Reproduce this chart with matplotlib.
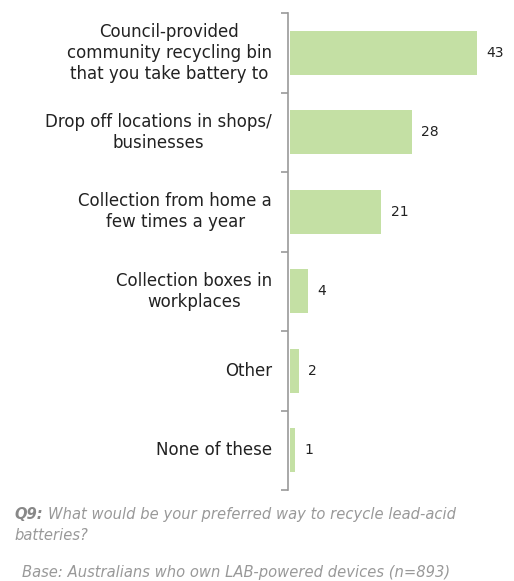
import matplotlib.pyplot as plt
import numpy as np

categories = ["Council-provided\ncommunity recycling bin\nthat you take battery to",
              "Drop off locations in shops/\nbusinesses",
              "Collection from home a\nfew times a year",
              "Collection boxes in\nworkplaces",
              "Other",
              "None of these"]
values = [43, 28, 21, 4, 2, 1]

fig = plt.figure(figsize=(5.14, 5.81), dpi=100)
ax = fig.add_axes([288/514, 1-490/581, 217/514, 477/581])
y = np.arange(len(categories))
ax.barh(y, values, height=0.55, color="#c4e0a4", left=0.5)
ax.set_ylim(len(categories)-0.5, -0.5)
ax.set_xlim(0, 50)
for s in ["top", "right", "bottom"]:
    ax.spines[s].set_visible(False)
ax.spines["left"].set_color("#999999")
ax.spines["left"].set_linewidth(1.2)
ax.set_xticks([])
ax.set_yticks(np.arange(len(categories)+1)-0.5)
ax.set_yticklabels([])
ax.tick_params(axis="y", length=5, color="#999999", width=1.2)
for yi, c in zip(y, categories):
    ax.text(-16/217, yi, c, transform=ax.get_yaxis_transform(), ha="right", va="center",
            multialignment="center", fontsize=12, color="#222222", linespacing=1.2)
for yi, v in zip(y, values):
    ax.text(v + 0.5 + 2.2, yi, str(v), va="center", ha="left", fontsize=10, color="#222222")

fs = 10.6
q9 = fig.text(14/514, 1-519/581, "Q9:", fontsize=fs, color="#888888", style="italic",
              weight="bold", va="baseline")
fig.canvas.draw()
plt.annotate("What would be your preferred way to recycle lead-acid", xy=(1, 0),
             xycoords=q9, xytext=(4, 0), textcoords="offset points", fontsize=fs,
             color="#999999", style="italic", va="bottom", ha="left", annotation_clip=False)
fig.text(14/514, 1-536/581, "batteries?", fontsize=fs, color="#999999", style="italic", va="center")
fig.text(22/514, 1-573/581, "Base: Australians who own LAB-powered devices (n=893)", fontsize=fs,
         color="#999999", style="italic", va="center")
fig.savefig("out.png", dpi=100)
